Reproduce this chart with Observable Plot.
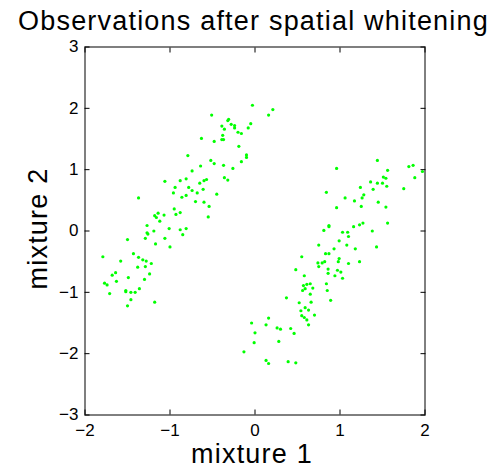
<!DOCTYPE html>
<html>
<head>
<meta charset="utf-8">
<script src="https://cdn.jsdelivr.net/npm/d3@7"></script>
<script src="https://cdn.jsdelivr.net/npm/@observablehq/plot@0.6"></script>
<style>
  html, body { margin: 0; padding: 0; background: white; }
  #wrap { width: 491px; height: 467px; position: relative; overflow: hidden; font-family: "Liberation Sans", Arial, Helvetica, sans-serif; }
  #title { height: 36px; line-height: 43px; font-size: 27px; letter-spacing: 1.2px; text-align: center; padding-left: 16px; color: black; white-space: nowrap; }
  svg { overflow: visible; display: block; }
</style>
</head>
<body>
<div id="wrap">
  <div id="title">Observations after spatial whitening</div>
  <div id="chart"></div>
</div>
<script>
const titleText = "Observations after spatial whitening";
const xLabel = "mixture 1";
const yLabel = "mixture 2";
const xTicks = [-2, -1, 0, 1, 2];
const yTicks = [-3, -2, -1, 0, 1, 2, 3];

// upper-left cluster
const leftX = [-0.03,-0.51,-0.31,-0.32,-0.05,-0.39,-0.28,-0.24,-0.24,-0.36,
  -0.08,-0.20,-0.16,-0.38,-0.63,-0.39,-0.37,-0.48,-0.19,-0.79,
  -0.10,-0.10,-0.52,-0.48,-0.16,-0.64,-0.37,-0.26,-0.74,-1.06,
  -0.88,-0.81,-0.65,-0.60,-0.57,-0.36,-0.32,-0.94,-0.78,-0.96,
  -0.74,-0.61,-0.68,-0.45,-0.81,-0.86,-1.37,-0.70,-0.60,-0.54,
  -0.95,-0.88,-1.14,-1.18,-1.16,-1.07,-0.93,-0.55,0.21,0.16,
  -1.12,-1.27,-1.01,-0.88,-0.81,-1.19,-1.27,-1.26,-0.85,-1.50,
  -1.29,-1.06,-1.17,-1.00,-1.43,-1.79,-1.37,-1.32,-1.28,-1.58,
  -1.22,-1.38,-1.29,-1.64,-1.68,-1.24,-1.49,-1.63,-1.30,-1.77,
  -1.74,-1.36,-1.52,-1.52,-1.46,-1.41,-1.71,-1.46,-1.18,-1.50];
const leftY = [2.05,1.89,1.82,1.80,1.75,1.71,1.74,1.72,1.68,1.66,
  1.68,1.61,1.59,1.56,1.51,1.49,1.49,1.46,1.38,1.23,
  1.24,1.20,1.15,1.10,1.13,1.06,1.07,1.02,0.98,0.81,
  0.82,0.85,0.78,0.82,0.84,0.87,0.83,0.71,0.71,0.62,
  0.66,0.68,0.62,0.60,0.58,0.55,0.54,0.48,0.47,0.40,
  0.36,0.30,0.29,0.25,0.22,0.26,0.27,0.23,1.98,1.89,
  0.16,0.09,0.04,0.02,0.04,0.00,-0.03,-0.05,-0.06,-0.14,
  -0.12,-0.12,-0.21,-0.26,-0.37,-0.42,-0.43,-0.47,-0.49,-0.49,
  -0.53,-0.59,-0.58,-0.68,-0.72,-0.70,-0.76,-0.82,-0.79,-0.85,
  -0.88,-0.94,-0.97,-0.99,-1.00,-1.00,-1.02,-1.12,-1.16,-1.22];

// lower-right cluster
const rightX = [1.44,0.96,1.81,1.86,1.56,1.97,1.88,1.51,1.54,1.36,
  1.44,1.50,1.55,1.24,1.39,1.75,0.84,1.28,1.06,1.26,
  1.17,1.45,1.25,1.54,0.96,1.56,1.27,1.23,0.87,0.87,
  1.16,0.81,1.38,1.03,1.09,1.10,0.99,0.75,1.08,1.43,
  0.93,1.18,0.87,0.83,0.55,0.99,0.98,0.82,0.74,0.79,
  1.10,1.23,0.75,0.86,0.97,1.01,0.48,0.86,0.94,0.58,
  1.03,0.65,0.61,0.57,0.84,0.68,0.59,0.56,0.85,0.65,
  0.37,0.89,0.66,0.52,0.59,0.63,0.54,0.70,0.55,0.58,
  0.61,0.63,0.16,-0.04,0.13,0.26,0.30,0.42,0.00,0.46,
  0.28,-0.01,-0.13,0.13,0.16,0.39,0.48];
const rightY = [1.15,1.02,1.05,1.07,0.99,0.97,0.87,0.88,0.86,0.80,
  0.78,0.78,0.73,0.71,0.68,0.69,0.63,0.59,0.54,0.54,
  0.49,0.47,0.40,0.39,0.38,0.13,0.13,0.10,0.09,0.07,
  0.07,0.01,0.00,-0.02,-0.02,-0.09,-0.16,-0.23,-0.23,-0.26,
  -0.29,-0.29,-0.37,-0.37,-0.42,-0.45,-0.50,-0.50,-0.52,-0.52,
  -0.53,-0.50,-0.58,-0.62,-0.64,-0.67,-0.63,-0.69,-0.73,-0.73,
  -0.77,-0.86,-0.87,-0.89,-0.86,-0.93,-0.94,-0.97,-0.97,-1.03,
  -1.09,-1.13,-1.16,-1.17,-1.25,-1.29,-1.30,-1.37,-1.38,-1.41,
  -1.45,-1.53,-1.42,-1.50,-1.53,-1.58,-1.60,-1.59,-1.66,-1.67,
  -1.80,-1.82,-1.97,-2.11,-2.16,-2.13,-2.15];

const points = [
  ...leftX.map((x, i) => ({x, y: leftY[i]})),
  ...rightX.map((x, i) => ({x, y: rightY[i]}))
];

const font = '"Liberation Sans", Arial, Helvetica, sans-serif';
const fmt = d => (d < 0 ? "\u2212" + Math.abs(d) : String(d));

const chart = Plot.plot({
  width: 491,
  height: 431,
  marginTop: 10.5,
  marginBottom: 52.5,
  marginLeft: 84.5,
  marginRight: 66.5,
  x: {domain: [-2, 2]},
  y: {domain: [-3, 3]},
  style: {background: "white", color: "black", fontFamily: font, fontSize: "17px", overflow: "visible"},
  marks: [
    Plot.frame({stroke: "black"}),
    Plot.axisX({anchor: "bottom", ticks: xTicks, tickSize: -5, tickPadding: 13.8, tickFormat: fmt, fontSize: 17, label: null}),
    Plot.axisX({anchor: "top", ticks: xTicks, tickSize: -5, tickFormat: () => "", label: null}),
    Plot.axisY({anchor: "left", ticks: yTicks, tickSize: -5, tickPadding: 11.5, tickFormat: fmt, fontSize: 17, label: null}),
    Plot.axisY({anchor: "right", ticks: yTicks, tickSize: -5, tickFormat: () => "", label: null}),
    Plot.dot(points, {x: "x", y: "y", r: 1.6, fill: "#00ff00"}),
    Plot.text([xLabel], {text: d => d, frameAnchor: "bottom", textAnchor: "middle", lineAnchor: "bottom", dy: 47.5, dx: -3, fontSize: 27}),
    Plot.text([yLabel], {text: d => d, frameAnchor: "left", textAnchor: "middle", lineAnchor: "bottom", rotate: -90, dx: -38.5, dy: -2.5, fontSize: 27})
  ]
});

d3.select(chart).selectAll("text").filter(function() { return this.textContent === xLabel || this.textContent === yLabel; })
  .style("letter-spacing", "1.2px");

document.getElementById("title").textContent = titleText;
document.getElementById("chart").appendChild(chart);
</script>
</body>
</html>
